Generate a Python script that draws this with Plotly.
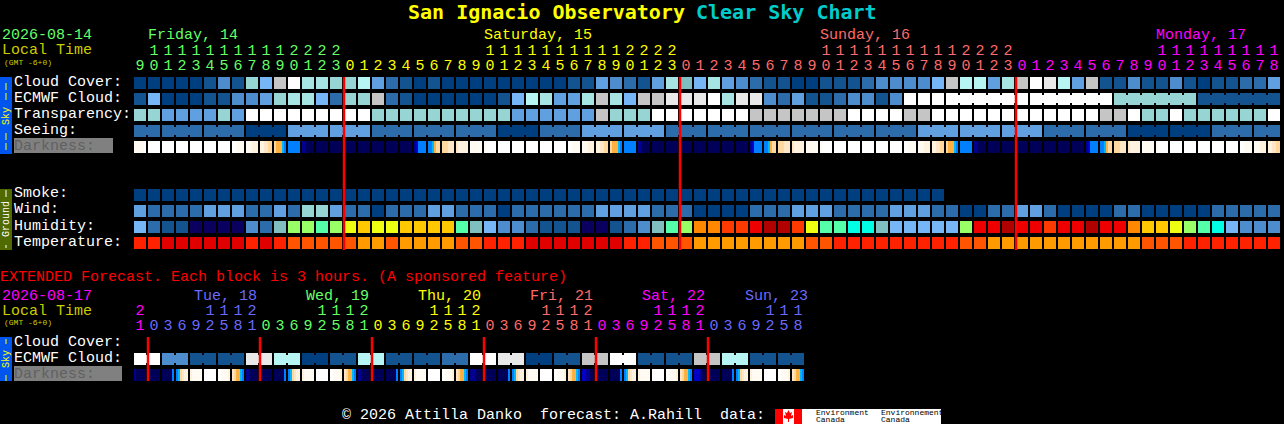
import plotly.graph_objects as go

W, H = 1284, 424
FONT = "Liberation Mono"

# ---------- data: one code per hourly block ----------
cloud_cover = ["0","0","0","0","0","1","3","1","7","5","g","w","8","8","7","7","9","4","2","1","0",
               "1","0","0","0","0","0","0","0","0","0","1","1","4","3","2","1","4","8","6","5","8","4","3","2","1","1","0","0","1","1","1",
               "2","3","3","3","3","5","g","9","9","4","8","g","w","l","9","4","g","1","1","3","1","1","3","1","0","1","1","2","2","4"]
ecmwf_cloud = ["1","5","0","0","0","1","1","3","3","4","7","8","8","5","2","7","7","g","2","1","0",
               "0","0","0","0","0","1","5","9","8","4","4","8","g","8","5","g","g","l","l","l","w","8","l","l","3","2","4","1","1","2","3",
               "3","1","3","w","w","w","w","w","w","w","w","w","w","w","w","w","w","w","7","7","7","7","7","7","1","1","1","1","1","1"]
transparency = ["7","7","4","4","4","4","7","4","w","w","w","w","w","w","w","w","w","7","7","7","7",
                "7","7","7","7","7","7","4","4","4","4","4","4","g","7","7","7","w","w","w","w","w","w","w","g","g","g","g","g","g","g","w",
                "w","w","w","g","g","w","w","w","w","w","w","w","w","w","w","w","w","g","g","w","7","7","w","7","7","7","7","7","7","w"]
seeing = ["2","2","2","2","2","2","2","2","0","0","0","4","4","4","4","4","4","2","2","2","2",
          "2","2","2","2","2","0","0","0","2","2","2","4","4","4","4","4","4","2","2","2","2","2","2","2","2","2","2","2","2","2","2",
          "2","2","2","2","4","4","4","4","4","4","4","4","4","2","2","2","2","2","2","0","0","0","0","0","0","2","2","2","2","2"]
smoke = ["0"] * 58
wind = ["4","2","2","2","2","4","4","4","2","2","4","2","7","7","4","2","2","0","2","2","2",
        "4","4","2","2","2","0","2","2","2","2","2","2","4","4","4","4","2","2","2","0","0","0","0","2","2","2","4","4","4","2","2",
        "2","2","4","4","4","2","2","0","0","2","2","4","4","2","0","0","0","0","2","2","0","0","0","0","0","2","2","2","2","2"]
humidity = ["5","2","1","1","n","n","n","n","3","2","6","L","L","m","L","y","o","y","y","o","o",
            "o","o","m","6","5","3","3","2","1","1","1","n","n","1","2","3","6","m","L","A","A","R","R","r","d","d","R","y","m","m","c",
            "c","6","5","5","5","5","5","L","r","r","d","r","r","R","r","r","d","r","r","A","o","o","y","L","m","c","5","3","3","3"]
temperature = ["T","T","D","D","D","D","D","D","T","D","T","F","F","F","F","F","O","O","F","O","O",
               "O","O","F","F","T","T","T","D","D","D","D","D","D","D","T","T","F","F","F","O","O","O","O","O","O","O","O","F","F","T","T",
               "T","T","T","T","T","T","T","F","F","O","O","O","O","O","O","O","O","O","O","O","F","F","F","T","T","T","T","T","T","T"]
darkness = ["aaaaaW","WWWWWW","WWWWWW","WWWWWW","WWWWWW","WWWWWW","WWWWWW","WWaaaa","aaabbb","bbccdd","deeefg","gggggg","iijjjj",
            "jjjjjj","jjjjjj","jjjjjj","jjjjjj","jjjjjj","jjjjjj","jjjjjj","ihgggg","ggfedd","dddccc","cbbbbb",
            "aaaaaa","aWWWWW","WWWWWW","WWWWWW","WWWWWW","WWWWWW","WWWWWW","WWaaaa","aaabbb","bbccdd","deeefg","gggggg","iijjjj",
            "jjjjjj","jjjjjj","jjjjjj","jjjjjj","jjjjjj","jjjjjj","jjjjjj","ihgggg","ggfedd","dddccc","cbbbbb",
            "aaaaaa","aWWWWW","WWWWWW","WWWWWW","WWWWWW","WWWWWW","WWWWWW","WWaaaa","aaabbb","bbccdd","deeefg","gggggg","iijjjj",
            "jjjjjj","jjjjjj","jjjjjj","jjjjjj","jjjjjj","jjjjjj","jjjjjj","ihgggg","ggfedd","dddccc","cbbbbb",
            "aaaaaa","aWWWWW","WWWWWW","WWWWWW","WWWWWW","WWWWWW","WWWWWW","WWaaaa","aaabbb","bbccdd"]
seeing_groups = [2, 3, 3, 3, 3, 3, 3, 3, 3, 3, 3, 3, 3, 3, 3, 3, 3, 3, 3, 3, 3, 3, 3, 3, 3, 3, 3, 2]
ecmwf_groups = [1] * 58 + [6, 6, 6, 6]

ext_ecmwf = ["w","w","3","3","1","1","1","1","l","l","9","9","0","0","1","1","9","9","1","1","1","1","2","2",
             "w","w","l","l","0","0","1","1","g","g","w","w","1","1","1","1","g","g","9","9","1","1","1","1"]
ext_darkness = ["ijjjjj","jjjjjj","jjjjjg","gfdcbb","baaaaa","WWWWWW","WWaaab","cdeefg",
                "iijjjj","jjjjjj","jjjjjg","gfdcbb","baaaaa","WWWWWW","WWaaab","cdeefg",
                "iijjjj","jjjjjj","jjjjjg","gfdcbb","baaaaa","WWWWWW","WWaaab","cdeefg",
                "iiijjj","jjjjjj","jjjjjg","gfdcbb","baaaaa","WWWWWW","WWaaab","cdeefg",
                "hhiijj","jjjjjj","jjjjjg","gfdcbb","baaaaa","WWWWWW","WWaaab","cdeefg",
                "hhhijj","jjjjjj","jjjjjg","gfdcbb","baaaaa","WWWWWW","WWaaab","cdeefg"]

hours_main = [9,10,11,12,13,14,15,16,17,18,19,20,21,22,23] \
    + [0,1,2,3,4,5,6,7,8,9,10,11,12,13,14,15,16,17,18,19,20,21,22,23] \
    + [0,1,2,3,4,5,6,7,8,9,10,11,12,13,14,15,16,17,18,19,20,21,22,23] \
    + [0,1,2,3,4,5,6,7,8,9,10,11,12,13,14,15,16,17,18]
hours_ext = [21] + [0,3,6,9,12,15,18,21] * 5 + [0,3,6,9,12,15,18]
day_colors = {"g": "#66ff66", "y": "#ffff00", "r": "#ff6a6a", "m": "#ff00ff", "b": "#6a6aff"}
main_day_order = ["g", "y", "r", "m"]
ext_day_order = ["m", "b", "g", "y", "r", "m", "b"]

for name, row in [("cc", cloud_cover), ("ec", ecmwf_cloud), ("tr", transparency), ("se", seeing), ("wi", wind),
                  ("hu", humidity), ("te", temperature), ("da", darkness), ("ho", hours_main)]:
    assert len(row) == 82, (name, len(row))
assert len(ext_ecmwf) == 48 and len(ext_darkness) == 48 and len(hours_ext) == 48

# ---------- colour tables ----------
palette = {
    "0": "#003f7f", "1": "#13538f", "2": "#2d6cab", "3": "#4d8dcd", "4": "#60a0e0", "5": "#76b6f6",
    "6": "#7fbfbf", "7": "#97d5d5", "8": "#a7e5e5", "9": "#b7f5f5", "g": "#c5c5c5", "l": "#e9e9e9", "w": "#ffffff",
    "n": "#0a0060", "L": "#99ff66", "m": "#55ffaa", "y": "#eeff11", "o": "#ffc800", "A": "#ff8800", "R": "#ff3a00",
    "r": "#ee0000", "d": "#b00000", "c": "#00ffe5", "T": "#ff2200", "D": "#e00000", "F": "#ff5500", "O": "#ff9a00",
}
shade = {"W": "#ffffff", "a": "#fffaf2", "b": "#fff3e0", "c": "#ffe6c6", "d": "#ffd8a0", "e": "#ffb040",
         "f": "#00b8ff", "g": "#0080ff", "h": "#0000c8", "i": "#000090", "j": "#000058"}
keys = list(palette)
sh_keys = list(shade)


def stepped(colors):
    n = len(colors)
    out = []
    for i, c in enumerate(colors):
        out += [[i / n, c], [(i + 1) / n, c]]
    return out


cs_main = stepped([palette[k] for k in keys])
cs_dark = stepped([shade[k] for k in sh_keys])


def codes(row, n=82):
    return [keys.index(c) + 0.5 for c in row] + [None] * (n - len(row))


def px_x(px):
    return (px - 140) / 14


def px_y(py):
    return (py - 83) / 16


fig = go.Figure()

main_rows = [codes(cloud_cover), codes(ecmwf_cloud), codes(transparency), codes(seeing), [None] * 82,
             [None] * 82, [None] * 82, codes(smoke), codes(wind), codes(humidity), codes(temperature)]
fig.add_trace(go.Heatmap(z=main_rows, x0=0, dx=1, y0=0, dy=1, xgap=2, ygap=4, colorscale=cs_main,
                         zmin=0, zmax=len(keys), showscale=False, hoverinfo="skip"))
fig.add_trace(go.Heatmap(z=[codes(ext_ecmwf, 48)], x0=0, dx=1, y0=17.25, dy=1, xgap=2, ygap=4, colorscale=cs_main,
                         zmin=0, zmax=len(keys), showscale=False, hoverinfo="skip"))


def sub_row(row):
    out = []
    for cell in row:
        out += [sh_keys.index(c) + 0.5 for c in cell] + [None]
    return out


for row, y0 in ((darkness, 4), (ext_darkness, 18.25)):
    fig.add_trace(go.Heatmap(z=[sub_row(row)], x0=-5 / 14, dx=2 / 14, y0=y0, dy=1, ygap=4, colorscale=cs_dark,
                             zmin=0, zmax=len(sh_keys), showscale=False, hoverinfo="skip"))


# bridges between blocks of one forecast step
def bridges(row, groups, y):
    segs = {}
    i = 0
    for g in groups:
        for k in range(i, i + g - 1):
            segs.setdefault(row[k], []).append(k)
        i += g
    for code, cols in segs.items():
        xs, ys = [], []
        for k in cols:
            xs += [k + 6 / 14, k + 8 / 14, None]
            ys += [y, y, None]
        fig.add_trace(go.Scatter(x=xs, y=ys, mode="lines", line=dict(color=palette[code], width=8),
                                 hoverinfo="skip", showlegend=False))


bridges(seeing, seeing_groups, 3)
bridges(ecmwf_cloud, ecmwf_groups, 1)
bridges(ext_ecmwf, [2] * 24, 17.25)

# midnight lines
main_mid = [i for i, h in enumerate(hours_main) if h == 0]
ext_mid = [i for i, h in enumerate(hours_ext) if h == 0]
xs, ys = [], []
for i in main_mid:
    xs += [i - 3 / 7, i - 3 / 7, None]
    ys += [px_y(77), px_y(250), None]
for i in ext_mid:
    xs += [i - 3 / 7, i - 3 / 7, None]
    ys += [px_y(337), px_y(381), None]
fig.add_trace(go.Scatter(x=xs, y=ys, mode="lines", line=dict(color="#ff0000", width=2.5), hoverinfo="skip", showlegend=False))


# hour digits
def digit_trace(hours, order, py_tens, py_units):
    day = -1
    cols = []
    prev = 99
    for h in hours:
        if h < prev:
            day += 1
        prev = h
        cols.append(day_colors[order[day]])
    tx = [i for i, h in enumerate(hours) if h >= 10]
    fig.add_trace(go.Scatter(x=tx, y=[px_y(py_tens)] * len(tx), mode="text", text=[str(hours[i] // 10) for i in tx],
                             textposition="middle center", hoverinfo="skip", showlegend=False,
                             textfont=dict(family=FONT, size=15, color=[cols[i] for i in tx])))
    fig.add_trace(go.Scatter(x=list(range(len(hours))), y=[px_y(py_units)] * len(hours), mode="text",
                             text=[str(h % 10) for h in hours], textposition="middle center", hoverinfo="skip",
                             showlegend=False, textfont=dict(family=FONT, size=15, color=cols)))


digit_trace(hours_main, main_day_order, 51, 66)
digit_trace(hours_ext, ext_day_order, 311, 326)

# ---------- decoration in page pixels ----------
ann = []


def text(px, py, s, color="#ffffff", size=15, bold=False, angle=0, anchor="left", fam=None):
    off = 1 if size == 15 else 0
    ann.append(dict(x=px / W, y=1 - (py + off) / H, xref="paper", yref="paper", text=f"<b>{s}</b>" if bold else s,
                    showarrow=False, xanchor=anchor, yanchor="middle", textangle=angle,
                    font=dict(family=fam or FONT, size=size, color=color), borderpad=0, borderwidth=0))


shapes = []


def rect(x0, y0, x1, y1, color):
    shapes.append(dict(type="rect", xref="paper", yref="paper", x0=x0 / W, x1=x1 / W, y0=1 - y0 / H, y1=1 - y1 / H,
                       fillcolor=color, line=dict(width=0), layer="above"))


text(408, 12, "San Ignacio Observatory", "#ffff00", 20, True, fam="DejaVu Sans Mono")
text(696, 12, "Clear Sky Chart", "#00cccc", 20, True, fam="DejaVu Sans Mono")

text(2, 35, "2026-08-14", day_colors["g"])
text(2, 50, "Local Time", "#cccc00")
text(4, 62, "(GMT -6+0)", "#cccc00", 8)
for s, px, c in [("Friday, 14", 148, "g"), ("Saturday, 15", 484, "y"), ("Sunday, 16", 820, "r"), ("Monday, 17", 1156, "m")]:
    text(px, 35, s, day_colors[c])

rect(14, 138, 113, 153, "#808080")
rect(14, 366, 122, 381, "#808080")
for s, py in [("Cloud Cover:", 81), ("ECMWF Cloud:", 97), ("Transparency:", 113), ("Seeing:", 129)]:
    text(14, py, s)
text(14, 145, "Darkness:", "#606060")
for s, py in [("Smoke:", 193), ("Wind:", 209), ("Humidity:", 225), ("Temperature:", 241)]:
    text(14, py, s)

text(0, 276, "EXTENDED Forecast. Each block is 3 hours. (A sponsored feature)", "#ff0000")
text(2, 295, "2026-08-17", day_colors["m"])
text(2, 310, "Local Time", "#cccc00")
text(4, 322, "(GMT -6+0)", "#cccc00", 8)
for s, px, c in [("Tue, 18", 194, "b"), ("Wed, 19", 306, "g"), ("Thu, 20", 418, "y"), ("Fri, 21", 530, "r"), ("Sat, 22", 642, "m"), ("Sun, 23", 745, "b")]:
    text(px, 295, s, day_colors[c])
for s, py in [("Cloud Cover:", 341), ("ECMWF Cloud:", 357)]:
    text(14, py, s)
text(14, 373, "Darkness:", "#606060")

# side bars
rect(0, 77, 12, 154, "#0055ee")
rect(0, 189, 12, 250, "#506a00")
rect(0, 337, 12, 381, "#0055ee")
text(6, 116, "Sky", "#ffff00", 10, angle=-90, anchor="center")
text(6, 219, "Ground", "#ffffff", 10, angle=-90, anchor="center")
text(6, 359, "Sky", "#ffff00", 10, angle=-90, anchor="center")
for y0, y1, c in [(83, 90, "#ffff00"), (93, 100, "#ffff00"), (133, 140, "#ffff00"), (143, 150, "#ffff00"),
                  (190, 197, "#ffffff"), (245, 248, "#ffffff"), (339, 344, "#ffff00"), (375, 381, "#ffff00")]:
    rect(5.5, y0, 6.5, y1, c)

# footer and logo
text(342, 414.3, "\u00a9 2026 Attilla Danko  forecast: A.Rahill  data:")
rect(775, 409, 941, 424, "#ffffff")
rect(775, 409, 783, 424, "#ff0000")
rect(794, 409, 802, 424, "#ff0000")
leaf = [(788.5, 410), (790, 413), (792, 412), (791, 416), (793, 415), (793, 418), (789, 419), (789, 422), (788, 422),
        (788, 419), (784, 418), (784, 415), (786, 416), (785, 412), (787, 413)]
shapes.append(dict(type="path", xref="paper", yref="paper", layer="above", fillcolor="#ff0000", line=dict(width=0),
                   path="M " + " L ".join(f"{x / W:.5f},{1 - y / H:.5f}" for x, y in leaf) + " Z"))
text(816, 412.5, "Environment", "#000000", 8)
text(816, 419, "Canada", "#000000", 8)
text(881, 412.5, "Environnement", "#000000", 8)
text(881, 419, "Canada", "#000000", 8)

fig.update_layout(
    width=W, height=H, margin=dict(l=0, r=0, t=0, b=0, pad=0), paper_bgcolor="#000000", plot_bgcolor="#000000",
    showlegend=False, annotations=ann, shapes=shapes,
    xaxis=dict(range=[px_x(0), px_x(W)], visible=False, fixedrange=True),
    yaxis=dict(range=[px_y(H), px_y(0)], visible=False, fixedrange=True),
)
fig.write_html("out.html", config={"displayModeBar": False},
               post_script="document.body.style.margin='0';document.body.style.background='#000';document.body.style.overflow='hidden';")
